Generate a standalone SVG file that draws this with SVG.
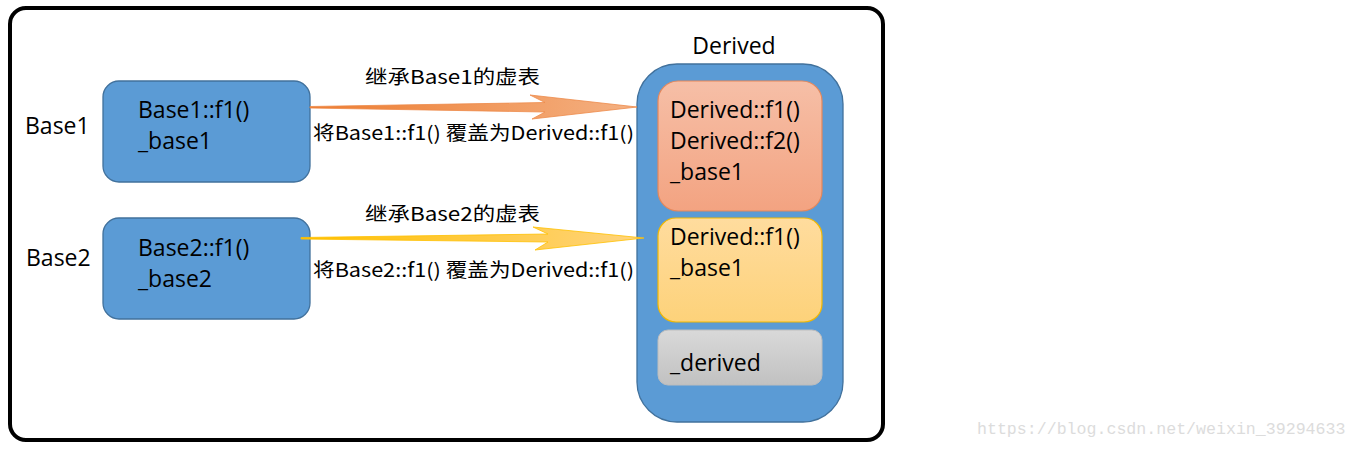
<svg xmlns="http://www.w3.org/2000/svg" width="1358" height="449" viewBox="0 0 1358 449">
<defs>
<style>
.lbl{font-family:"Open Sans","Liberation Sans",sans-serif;font-size:23px;fill:#000}
.cn{font-family:"Noto Sans CJK SC","Noto Sans",sans-serif;font-size:19px;fill:#000}
.blue{fill:#5B9BD5;stroke:#41719C;stroke-width:1.3}
</style>
<linearGradient id="gOr" x1="0" y1="0" x2="0" y2="1"><stop offset="0" stop-color="#F6BFA7"/><stop offset="1" stop-color="#F3A381"/></linearGradient>
<linearGradient id="gYe" x1="0" y1="0" x2="0" y2="1"><stop offset="0" stop-color="#FFDC9E"/><stop offset="1" stop-color="#FDD27A"/></linearGradient>
<linearGradient id="gGr" x1="0" y1="0" x2="0" y2="1"><stop offset="0" stop-color="#D9D9D9"/><stop offset="1" stop-color="#C1C1C1"/></linearGradient>
<linearGradient id="aOr" x1="0" y1="0" x2="1" y2="0"><stop offset="0" stop-color="#ED7D31"/><stop offset="1" stop-color="#F4B183"/></linearGradient>
<linearGradient id="aYe" x1="0" y1="0" x2="1" y2="0"><stop offset="0" stop-color="#FFC000"/><stop offset="1" stop-color="#FFD47F"/></linearGradient>
</defs>
<rect width="1358" height="449" fill="#fff"/>
<rect x="10" y="8" width="873" height="432" rx="16" fill="#fff" stroke="#000" stroke-width="4"/>

<g id="base1">
<text class="lbl" x="25" y="134">Base1</text>
<rect class="blue" x="103" y="81" width="207" height="101" rx="16"/>
<text class="lbl" x="138" y="118">Base1::f1()</text>
<text class="lbl" x="138" y="149">_base1</text>
</g>
<g id="base2">
<text class="lbl" x="26" y="266">Base2</text>
<rect class="blue" x="103" y="218" width="207" height="101" rx="16"/>
<text class="lbl" x="138" y="256">Base2::f1()</text>
<text class="lbl" x="138" y="287">_base2</text>
</g>
<g id="derived">
<text class="lbl" x="734" y="54" text-anchor="middle">Derived</text>
<rect class="blue" x="637" y="64" width="206" height="358" rx="40"/>
<g id="derived-base1">
<rect x="658" y="81" width="164" height="130" rx="20" fill="url(#gOr)" stroke="#E5875A" stroke-width="1.2"/>
<text class="lbl" x="670" y="118">Derived::f1()</text>
<text class="lbl" x="670" y="149">Derived::f2()</text>
<text class="lbl" x="670" y="180">_base1</text>
</g>
<g id="derived-base2">
<rect x="658" y="218" width="164" height="104" rx="18" fill="url(#gYe)" stroke="#F2B800" stroke-width="1.2"/>
<text class="lbl" x="670" y="245">Derived::f1()</text>
<text class="lbl" x="670" y="276">_base1</text>
</g>
<g id="derived-own">
<rect x="658" y="330" width="164" height="55" rx="10" fill="url(#gGr)" stroke="#BDBDBD" stroke-width="1"/>
<text class="lbl" x="670" y="371">_derived</text>
</g>
</g>

<g id="connectors">
<polygon points="310,106.5 545,102.5 530,95 637,107 532,119 545,112 310,108" fill="url(#aOr)" stroke="#EE8A4A" stroke-width="0.8"/>
<polygon points="301,237.5 548,234 533,227 644,238 535,250 548,242 301,239" fill="url(#aYe)" stroke="#FFC000" stroke-width="0.8"/>
</g>

<g id="labels">
<text class="cn" x="365" y="84" textLength="175" lengthAdjust="spacingAndGlyphs">继承Base1的虚表</text>
<text class="cn" x="313" y="140" textLength="321" lengthAdjust="spacingAndGlyphs">将Base1::f1() 覆盖为Derived::f1()</text>
<text class="cn" x="365" y="221" textLength="175" lengthAdjust="spacingAndGlyphs">继承Base2的虚表</text>
<text class="cn" x="313" y="277" textLength="321" lengthAdjust="spacingAndGlyphs">将Base2::f1() 覆盖为Derived::f1()</text>
</g>

<text x="977" y="434" font-family="'Liberation Mono',monospace" font-size="16.6" fill="#DCDCDC">https://blog.csdn.net/weixin_39294633</text>
</svg>
